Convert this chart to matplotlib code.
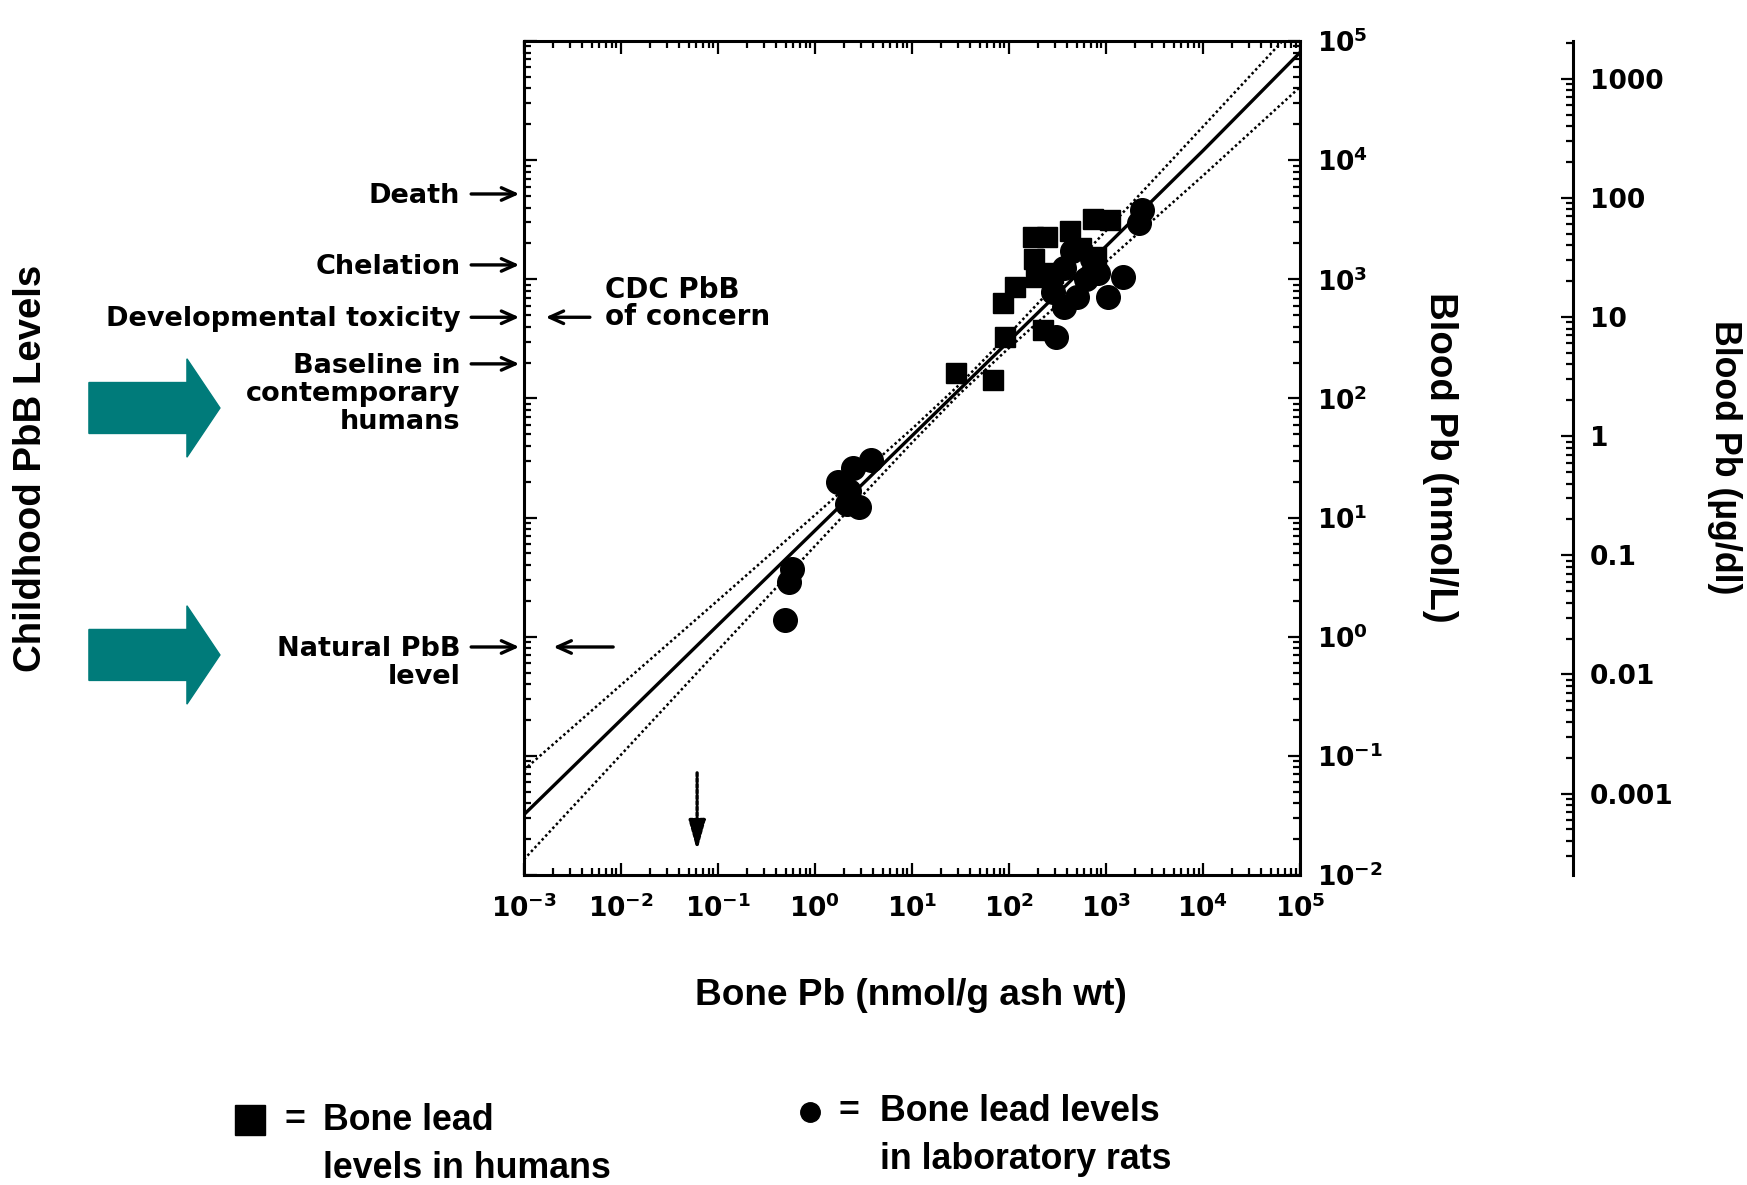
"""
Blood Pb vs bone Pb (log-log), with childhood PbB levels marked on the left.
"""
import matplotlib
matplotlib.use("Agg")
import matplotlib.pyplot as plt
from matplotlib import font_manager
from matplotlib.lines import Line2D
from matplotlib.patches import FancyArrow
from matplotlib.ticker import LogLocator, NullFormatter

# --- data (nmol/g ash wt, nmol/L) ---
human_bone = [28.5, 68, 91, 86.5, 116, 177, 249, 423, 736, 1090, 224, 181, 284, 550, 795, 190]
human_blood = [165, 142, 328, 627, 865, 2280, 2280, 2540, 3220, 3150, 373, 1480, 1120, 1840, 1550, 1050]

rat_bone = [0.486, 0.54, 0.585, 1.73, 2.44, 3.82, 2.14, 2.86, 2.25, 308, 370, 284,
            508, 1040, 1500, 819, 2170, 2360, 628, 370, 445, 716]
rat_blood = [1.38, 2.87, 3.72, 20, 25.9, 30.7, 13, 12.2, 16.8, 328, 587, 778,
             713, 713, 1050, 1120, 2950, 3830, 1010, 1250, 1730, 1480]

# regression line and its confidence band
fit_bone = [1e-3, 1e-2, 1e-1, 1, 10, 31.6, 100, 1e3, 1e4, 1e5]
fit_blood = [0.0321, 0.200, 1.25, 7.78, 48.5, 121, 303, 1890, 12000, 80000]
band_upper = [0.0762, 0.393, 2.02, 10.5, 55.5, 133, 346, 2550, 19100, 144000]
band_lower = [0.0135, 0.102, 0.769, 5.77, 42.5, 111, 265, 1400, 7400, 41000]

# childhood PbB levels (nmol/L) marked on the left axis
level_names = ["Death", "Chelation", "Developmental toxicity",
               "Baseline in\ncontemporary\nhumans", "Natural PbB\nlevel"]
level_values = [5200, 1320, 480, 195, 0.82]
cdc_level = 480
natural_level = 0.82
natural_bone = 0.061          # dotted arrow on the bone axis
natural_bone_span = [0.072, 0.016]

x_decades = [1e-3, 1e-2, 1e-1, 1, 10, 100, 1e3, 1e4, 1e5]
x_labels = [r"$\mathbf{10^{-3}}$", r"$\mathbf{10^{-2}}$", r"$\mathbf{10^{-1}}$",
            r"$\mathbf{10^{0}}$", r"$\mathbf{10^{1}}$", r"$\mathbf{10^{2}}$",
            r"$\mathbf{10^{3}}$", r"$\mathbf{10^{4}}$", r"$\mathbf{10^{5}}$"]
y_decades = [1e-2, 1e-1, 1, 10, 100, 1e3, 1e4, 1e5]
y_labels = x_labels[1:]

ug_ticks = [0.001, 0.01, 0.1, 1, 10, 100, 1000]
ug_labels = ["0.001", "0.01", "0.1", "1", "10", "100", "1000"]
NMOL_PER_UG_DL = 48.26

XLIM = (1e-3, 1e5)
YLIM = (1e-2, 1e5)
TEAL = "#007B7A"

# condensed Helvetica look for the big labels, if the narrow face exists
names = {f.name for f in font_manager.fontManager.ttflist}
COND = "Liberation Sans Narrow" if "Liberation Sans Narrow" in names else "Liberation Sans"
k = 1.0 if COND == "Liberation Sans Narrow" else 0.92

fig = plt.figure(figsize=(17.47, 11.85), dpi=100)
ax = fig.add_axes([0.2999, 0.2616, 0.4442, 0.7038])
ax.set_xscale("log")
ax.set_yscale("log")
ax.set_xlim(*XLIM)
ax.set_ylim(*YLIM)

ax.plot(fit_bone, fit_blood, "k-", lw=2.4)
ax.plot(fit_bone, band_upper, color="k", lw=1.8, ls=(0, (1, 1.1)))
ax.plot(fit_bone, band_lower, color="k", lw=1.8, ls=(0, (1, 1.1)))

ax.plot(human_bone, human_blood, "s", color="k", ms=14, mec="k")
ax.plot(rat_bone, rat_blood, "o", color="k", ms=17, mec="k")

# second blood scale in ug/dl (twinx first, so the main ticks set below stick)
ax2 = ax.twinx()
ax2.set_yscale("log")
ax2.set_ylim(YLIM[0] / NMOL_PER_UG_DL, YLIM[1] / NMOL_PER_UG_DL)
for name in ("top", "bottom", "left"):
    ax2.spines[name].set_visible(False)
ax2.spines["right"].set_position(("axes", 1.352))
ax2.spines["right"].set_linewidth(2.2)
ax2.yaxis.set_minor_locator(LogLocator(base=10, subs=range(2, 10), numticks=200))
ax2.yaxis.set_minor_formatter(NullFormatter())
ax2.set_yticks(ug_ticks)
ax2.set_yticklabels(ug_labels)
ax2.tick_params(which="both", direction="in", width=1.6)
ax2.tick_params(which="major", length=9, pad=12)
ax2.tick_params(which="minor", length=5)
for lab in ax2.get_yticklabels():
    lab.set_fontsize(19)
    lab.set_fontweight("bold")
    lab.set_family("DejaVu Sans")

# main frame / ticks
for sp in ax.spines.values():
    sp.set_linewidth(2.2)
ax.set_xticks(x_decades)
ax.set_xticklabels(x_labels)
ax.set_yticks(y_decades)
ax.set_yticklabels(y_labels)
for axis in (ax.xaxis, ax.yaxis):
    axis.set_minor_locator(LogLocator(base=10, subs=range(2, 10), numticks=200))
    axis.set_minor_formatter(NullFormatter())
ax.yaxis.set_ticks_position("both")
ax.xaxis.set_ticks_position("both")
ax.tick_params(which="both", direction="in", top=True, bottom=True, right=True, left=True,
               labelleft=False, labelright=True, labeltop=False, labelbottom=True, width=1.6)
ax.tick_params(which="major", length=9, labelsize=19, pad=12)
ax.tick_params(which="minor", length=5)
ax.tick_params(axis="x", which="major", pad=14)

# axis titles
fig.text(0.5215, 0.1603, "Bone Pb (nmol/g ash wt)", ha="center", va="center",
         family=COND, weight="bold", fontsize=29 * k)
fig.text(0.8242, 0.6143, "Blood Pb (nmol/L)", ha="center", va="center", rotation=270,
         family=COND, weight="bold", fontsize=30 * k)
fig.text(0.9873, 0.6143, "Blood Pb (µg/dl)", ha="center", va="center", rotation=270,
         family=COND, weight="bold", fontsize=28 * k)
fig.text(0.0178, 0.605, "Childhood PbB Levels", ha="center", va="center", rotation=90,
         family=COND, weight="bold", fontsize=30 * k)

# level markers on the left axis
ytrans = ax.get_yaxis_transform()
arrow_kw = dict(arrowstyle="->,head_length=1.0,head_width=0.45", lw=2.4, color="k",
                shrinkA=0, shrinkB=0)
LABEL_FS = 19.5
text_kw = dict(family="DejaVu Sans", weight="bold", fontsize=LABEL_FS, ha="right",
               va="top", linespacing=1.1, annotation_clip=False)
for name, val in zip(level_names, level_values):
    ax.annotate("", xy=(-0.006, val), xycoords=ytrans, xytext=(-0.068, val),
                textcoords=ytrans, arrowprops=arrow_kw, annotation_clip=False)
    ax.annotate(name, xy=(-0.082, val), xycoords=ytrans, xytext=(0, 0.42 * LABEL_FS),
                textcoords="offset points", **text_kw)

# CDC level of concern and natural level arrows from the inside
ax.annotate("", xy=(0.028, cdc_level), xycoords=ytrans, xytext=(0.085, cdc_level),
            textcoords=ytrans, arrowprops=arrow_kw)
ax.annotate("CDC PbB\nof concern", xy=(0.105, cdc_level), xycoords=ytrans,
            xytext=(0, 10), textcoords="offset points", family="DejaVu Sans",
            weight="bold", fontsize=20, ha="left", va="center", linespacing=0.95)
ax.annotate("", xy=(0.038, natural_level), xycoords=ytrans, xytext=(0.115, natural_level),
            textcoords=ytrans, arrowprops=arrow_kw)

# dotted down arrow on the bone axis
ax.annotate("", xy=(natural_bone, natural_bone_span[1]),
            xytext=(natural_bone, natural_bone_span[0]),
            arrowprops=dict(arrowstyle="-|>,head_length=1.8,head_width=0.5", lw=2.4,
                            color="k", ls=(0, (1, 0.7)), shrinkA=0, shrinkB=0))

# teal block arrows
for yc in (0.6557, 0.4473):
    fig.add_artist(FancyArrow(0.0509, yc, 0.075, 0, width=0.043, head_width=0.083,
                              head_length=0.0189, length_includes_head=True,
                              color=TEAL, transform=fig.transFigure))

# legend at the bottom
leg_kw = dict(family=COND, weight="bold", fontsize=28 * k, va="center", ha="left",
              linespacing=1.33)
fig.add_artist(Line2D([0.1431], [0.0546], marker="s", ms=21, color="k",
                      transform=fig.transFigure))
fig.text(0.1689, 0.0546, "=", **dict(leg_kw, ha="center"))
fig.text(0.1849, 0.0546, "Bone lead", **leg_kw)
fig.text(0.1849, 0.0141, "levels in humans", **leg_kw)

fig.add_artist(Line2D([0.4637], [0.0620], marker="o", ms=14, color="k",
                      transform=fig.transFigure))
fig.text(0.4860, 0.0620, "=", **dict(leg_kw, ha="center"))
fig.text(0.5037, 0.0620, "Bone lead levels", **leg_kw)
fig.text(0.5037, 0.0215, "in laboratory rats", **leg_kw)

fig.savefig("out.png", dpi=100)
